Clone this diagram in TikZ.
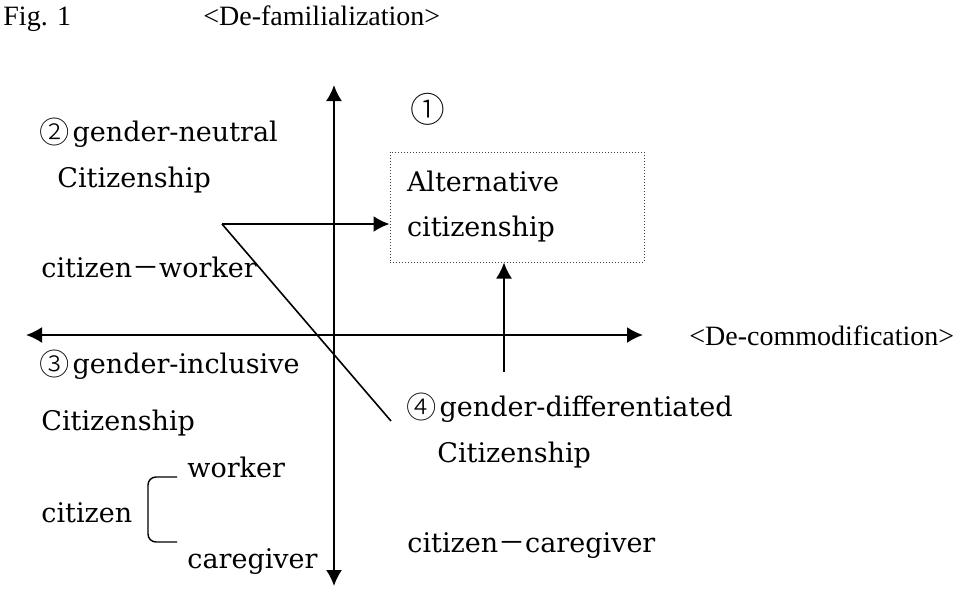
\documentclass[tikz,border=0pt]{standalone}
\usepackage{fontspec}
\setmainfont{DejaVu Serif}
\newfontfamily\cjk{Noto Sans CJK JP}
\newfontfamily\circfont[Scale=1.12]{Noto Sans CJK JP Light}
\newfontfamily\titlefont{Liberation Serif}
\newcommand\circnum[1]{\raisebox{-1pt}{\circfont #1}\kern1.5pt}
\usetikzlibrary{arrows.meta}

\begin{document}
\begin{tikzpicture}[x=0.5pt,y=-0.5pt,
  >={Latex[length=8pt,width=8pt]},
  lbl/.style={anchor=base west,inner sep=0pt,font=\fontsize{13.5}{16}\selectfont},
  ttl/.style={anchor=base west,inner sep=0pt,font=\titlefont\fontsize{14}{16}\selectfont},
  axis/.style={line width=1pt,<->},
  tip/.style={line width=1pt,->},
  bracketline/.style={line width=0.7pt,rounded corners=4pt}]
\useasboundingbox (0,0) rectangle (965,590);

\node[ttl] (fig) at (3,25) {Fig. 1};
\node[ttl] (defam) at (203,25) {<De-familialization>};
\node[ttl] (decom) at (689,345) {<De-commodification>};

\coordinate (top) at (334,85);
\coordinate (bottom) at (334,586);
\coordinate (left) at (26,335);
\coordinate (right) at (643,335);
\draw[axis] (bottom) -- (top);
\draw[axis] (left) -- (right);

\node[lbl,font=\fontsize{15.5}{18}\selectfont] (one) at (410,120) {\circnum{①}};
\node[lbl] (neutral) at (39,141) {\circnum{②}gender-neutral};
\node[lbl] (neutralc) at (57,187) {Citizenship};
\node[lbl] (cworker) at (41,277) {citizen{\cjk －}worker};
\node[lbl] (inclusive) at (39,373) {\circnum{③}gender-inclusive};
\node[lbl] (inclusivec) at (41,430) {Citizenship};
\node[lbl] (differ) at (406,416) {\circnum{④}gender-differentiated};
\node[lbl] (differc) at (437,462) {Citizenship};
\node[lbl] (ccare) at (407,552) {citizen{\cjk －}caregiver};
\node[lbl] (citizen) at (41,522) {citizen};
\node[lbl] (worker) at (187,477) {worker};
\node[lbl] (caregiver) at (187,568) {caregiver};

\node[draw=black!75,densely dotted,line width=0.5pt,minimum width=127pt,minimum height=55pt,
  inner sep=0pt,text width=110pt,align=left,font=\fontsize{13.5}{22.5}\selectfont]
  (alt) at (517,207) {Alternative\\citizenship};

\coordinate (split) at (222,224);
\coordinate (diagend) at (391,421);
\coordinate (upfoot) at (504,372);
\draw[tip] (split) -- (split -| alt.west);
\draw[line width=0.8pt] (split) -- (diagend);
\draw[tip] (upfoot) -- (upfoot |- alt.south);

\coordinate (brtop) at (177,477);
\coordinate (brbot) at (177,542);
\draw[bracketline] (brtop) -- (148,477) -- (148,542) -- (brbot);

\end{tikzpicture}
\end{document}
